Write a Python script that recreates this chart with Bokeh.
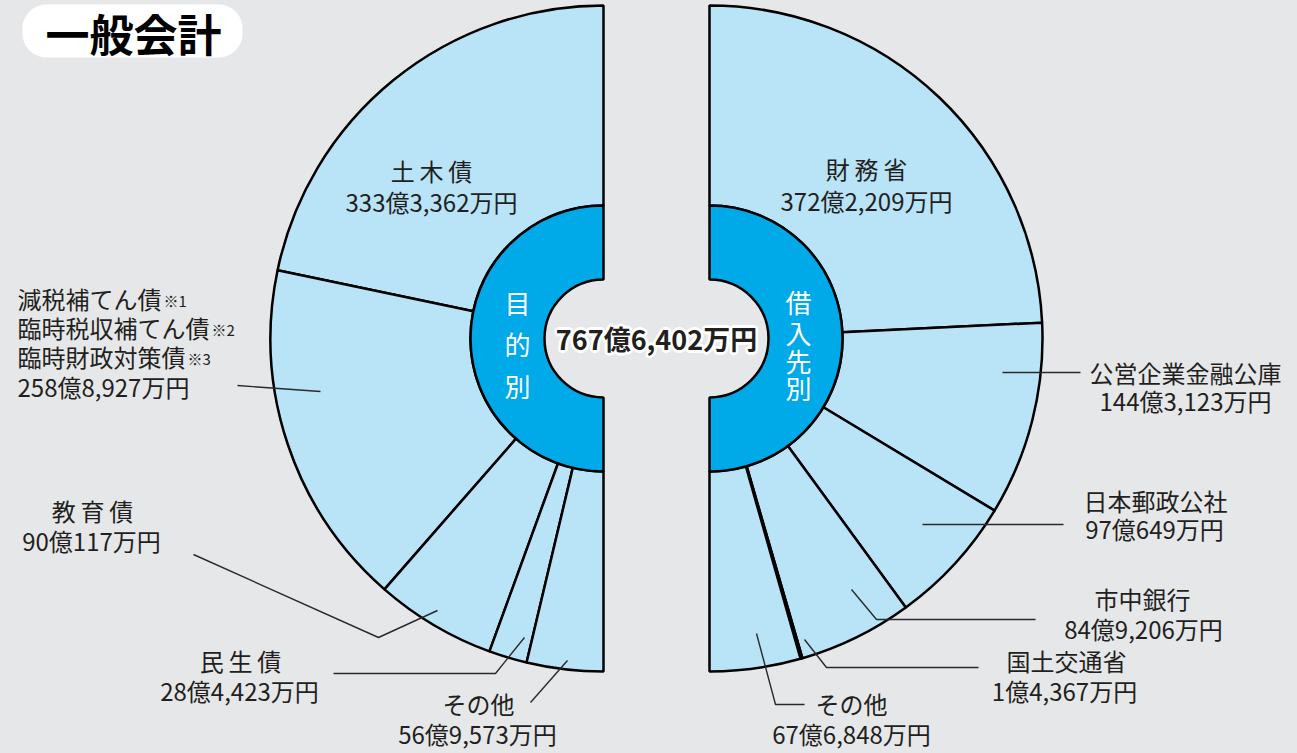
import math
from bokeh.plotting import figure
from bokeh.models import Range1d, ColumnDataSource
from bokeh.core.properties import value
from bokeh.embed import file_html
from bokeh.resources import INLINE

# ---------------- data (万円) ----------------
purpose_names = ["土木債", "減税補てん債等", "教育債", "民生債", "その他"]
purpose_values = [3333362, 2588927, 900117, 284423, 569573]
purpose_multi_lines = ["減税補てん債", "臨時税収補てん債", "臨時財政対策債"]
purpose_multi_notes = ["※1", "※2", "※3"]

lender_names = ["財務省", "公営企業金融公庫", "日本郵政公社", "市中銀行", "国土交通省", "その他"]
lender_values = [3722209, 1443123, 970649, 849206, 14367, 676848]

title_text = "一般会計"
left_ring_label = "目的別"
right_ring_label = "借入先別"


def fmt(v):
    oku, man = divmod(v, 10000)
    return f"{oku}億{man:,}万円"


def spaced(name):
    # short (3-character) names are set with letter spacing in the original
    return "\u2009".join(name) if len(name) == 3 and name != "その他" else name


# ---------------- style / layout ----------------
BG = "#E6E7E9"
LIGHT = "#B9E4F8"
RING = "#00AAE9"
INK = "#231F20"
FONT = "Noto Sans CJK JP"
W, H = 1297, 753


def Y(sy):
    return H - sy


LCX, LCY = 603, Y(338)
RCX, RCY = 709, Y(338)
R_OUT, R_MID, R_IN = 333, 133, 59

purpose_name_pos = [(431, 170), None, (92, 510), (240, 660), (478, 703)]
purpose_value_pos = [(431, 201), (17, 386), (91, 540), (239, 690), (477, 733)]
purpose_multi_pos = [(17, 298), (17, 327), (17, 356)]
purpose_leaders = [None,
                   [(237, 385), (320, 391)],
                   [(193, 554), (378, 637), (437, 610)],
                   [(333, 673), (495, 673), (524, 637)],
                   [(530, 702), (567, 660)]]

lender_name_pos = [(866, 168), (1185, 372), (1155, 500), (1142, 598), (1066, 660), (851, 703)]
lender_value_pos = [(866, 200), (1185, 400), (1154, 528), (1143, 628), (1064, 690), (851, 733)]
lender_leaders = [None,
                  [(1002, 372), (1080, 372)],
                  [(922, 524), (1063, 524)],
                  [(851, 589), (876, 619), (1035, 619)],
                  [(804, 639), (826, 667), (978, 667)],
                  [(756, 633), (775, 704), (804, 704)]]

p = figure(width=W, height=H, x_range=Range1d(0, W), y_range=Range1d(0, H),
           output_backend="svg", toolbar_location=None, min_border=0,
           x_axis_location=None, y_axis_location=None,
           background_fill_color=BG, border_fill_color=BG, outline_line_color=None)
p.grid.visible = False

# ---------------- wedges ----------------
tot_p = sum(purpose_values)
starts, ends, c = [], [], 0
for v in purpose_values:
    a0 = math.pi / 2 + math.pi * c / tot_p
    c += v
    a1 = math.pi / 2 + math.pi * c / tot_p
    starts.append(a0)
    ends.append(a1)
src_l = ColumnDataSource(dict(x=[LCX] * len(purpose_values), y=[LCY] * len(purpose_values),
                              s=starts, e=ends))
p.annular_wedge(x="x", y="y", inner_radius=R_MID, outer_radius=R_OUT, start_angle="s",
                end_angle="e", source=src_l, fill_color=LIGHT, line_color="black", line_width=2.5)

tot_r = sum(lender_values)
starts, ends, c = [], [], 0
for v in lender_values:
    a1 = math.pi / 2 - math.pi * c / tot_r
    c += v
    a0 = math.pi / 2 - math.pi * c / tot_r
    starts.append(a0)
    ends.append(a1)
src_r = ColumnDataSource(dict(x=[RCX] * len(lender_values), y=[RCY] * len(lender_values),
                              s=starts, e=ends))
p.annular_wedge(x="x", y="y", inner_radius=R_MID, outer_radius=R_OUT, start_angle="s",
                end_angle="e", source=src_r, fill_color=LIGHT, line_color="black", line_width=2.5)

# rings
p.annular_wedge(x=[LCX, RCX], y=[LCY, RCY], inner_radius=R_IN, outer_radius=R_MID,
                start_angle=[math.pi / 2, -math.pi / 2], end_angle=[3 * math.pi / 2, math.pi / 2],
                fill_color=RING, line_color="black", line_width=2.5)

# ---------------- leaders ----------------
xs, ys = [], []
for ld in purpose_leaders + lender_leaders:
    if ld:
        xs.append([q[0] for q in ld])
        ys.append([Y(q[1]) for q in ld])
p.multi_line(xs=xs, ys=ys, line_color="#2a2a2a", line_width=1.4)

# ---------------- title badge ----------------
bx0, bx1, by0, by1, br = 22, 242, 4, 57, 24
pts = []
for cx, cy, a0 in [(bx1 - br, by0 + br, -90), (bx1 - br, by1 - br, 0), (bx0 + br, by1 - br, 90), (bx0 + br, by0 + br, 180)]:
    for k in range(0, 91, 5):
        a = math.radians(a0 + k)
        pts.append((cx + br * math.cos(a), cy + br * math.sin(a)))
p.patch(x=[q[0] for q in pts], y=[Y(q[1]) for q in pts], fill_color="white", line_color=None)
p.text(x=[133], y=[Y(32)], text=[title_text], text_font=value(FONT), text_font_size="44px",
       text_font_style="bold", text_color="black", text_align="center", text_baseline="middle")

# ---------------- labels ----------------
def put(x, y, t, size="24px", align="center", color=INK, style="normal"):
    p.text(x=[x], y=[Y(y)], text=[t], text_font=value(FONT), text_font_size=size,
           text_color=color, text_align=align, text_baseline="middle", text_font_style=style)


for i, name in enumerate(purpose_names):
    if purpose_name_pos[i] is not None:
        put(purpose_name_pos[i][0], purpose_name_pos[i][1], spaced(name))
        put(purpose_value_pos[i][0], purpose_value_pos[i][1], fmt(purpose_values[i]))
    else:
        for (x, y), line, note in zip(purpose_multi_pos, purpose_multi_lines, purpose_multi_notes):
            put(x, y, line, align="left")
            put(x + 24 * len(line) + 2, y + 2, note, size="15px", align="left")
        put(purpose_value_pos[i][0], purpose_value_pos[i][1], fmt(purpose_values[i]), align="left")

for i, name in enumerate(lender_names):
    put(lender_name_pos[i][0], lender_name_pos[i][1], spaced(name))
    put(lender_value_pos[i][0], lender_value_pos[i][1], fmt(lender_values[i]))

# ring labels (vertical)
for ch, y in zip(left_ring_label, [302, 343, 385]):
    put(517, y, ch, size="26px", color="white")
for ch, y in zip(right_ring_label, [301, 332, 360, 387]):
    put(798, y, ch, size="26px", color="white")

# centre total with white halo
total_txt = fmt(tot_p)
n = 16
halo = ColumnDataSource(dict(x=[656] * n, y=[Y(338)] * n, t=[total_txt] * n,
                             dx=[2.6 * math.cos(2 * math.pi * k / n) for k in range(n)],
                             dy=[2.6 * math.sin(2 * math.pi * k / n) for k in range(n)]))
p.text(x="x", y="y", text="t", x_offset="dx", y_offset="dy", source=halo, text_font=value(FONT),
       text_font_size="27px", text_font_style="bold", text_color="white",
       text_align="center", text_baseline="middle")
put(656, 338, total_txt, size="27px", style="bold")

html = file_html(p, INLINE)
html = html.replace("<head>", "<head><style>html,body{background:%s;margin:0;}</style>" % BG, 1)
open("out.html", "w").write(html)
